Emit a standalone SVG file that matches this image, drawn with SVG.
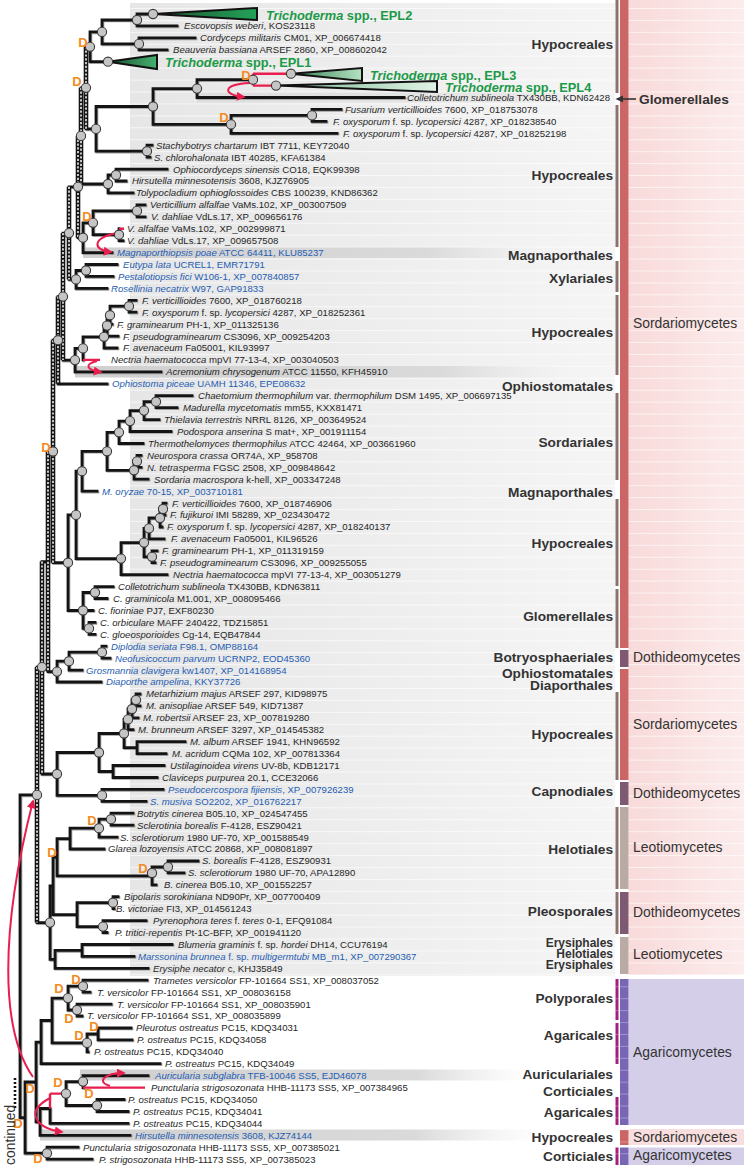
<svg xmlns="http://www.w3.org/2000/svg" width="744" height="1167" viewBox="0 0 744 1167">
<style>
.t{font-family:"Liberation Sans",Arial,sans-serif;font-size:9.6px;fill:#262626}
.bl{fill:#1f5db3}
.i{font-style:italic}
.epl{font-family:"Liberation Sans",Arial,sans-serif;font-size:12.8px;font-weight:bold;fill:#1c9a48}
.D{font-family:"Liberation Sans",Arial,sans-serif;font-size:13px;font-weight:bold;fill:#f38b1f;text-anchor:middle}
.ord{font-family:"Liberation Sans",Arial,sans-serif;font-size:13.7px;font-weight:bold;fill:#333;text-anchor:end}
.ords{font-size:12px}
.cls{font-family:"Liberation Sans",Arial,sans-serif;font-size:13.9px;fill:#333}
.nd{fill:#c5c5c5;stroke:#3a3a3a;stroke-width:1.1}
.red{fill:none;stroke:#e81f4e;stroke-width:2.4}
.arr{fill:none;stroke:#e81f4e;stroke-width:2;marker-end:url(#ah)}
.lad{fill:none;stroke:#141414;stroke-width:4.6}
.ladw{fill:none;stroke:#fff;stroke-width:1.5;stroke-dasharray:2.2 1.6}
.tri{stroke:#121212;stroke-width:2;stroke-linejoin:miter}
.band{fill:url(#bandg)}
</style>
<defs>
<linearGradient id="pg" x1="0" x2="1" y1="0" y2="0"><stop offset="0" stop-color="#e6e6e6"/><stop offset="1" stop-color="#f5f5f5"/></linearGradient>
<linearGradient id="pk" x1="0" x2="1" y1="0" y2="0"><stop offset="0" stop-color="#f8dada"/><stop offset="1" stop-color="#fcecec"/></linearGradient>
<linearGradient id="bandg" x1="0" x2="1" y1="0" y2="0"><stop offset="0" stop-color="#cfcfcf"/><stop offset="0.75" stop-color="#dadada"/><stop offset="1" stop-color="#e8e8e8" stop-opacity="0"/></linearGradient>
<linearGradient id="g2" x1="0" x2="1"><stop offset="0" stop-color="#1a5230"/><stop offset="1" stop-color="#22a358"/></linearGradient>
<linearGradient id="g1" x1="0" x2="1"><stop offset="0" stop-color="#1a5230"/><stop offset="1" stop-color="#45b16f"/></linearGradient>
<linearGradient id="g3" x1="0" x2="1"><stop offset="0" stop-color="#2f7f50"/><stop offset="1" stop-color="#b7e3c3"/></linearGradient>
<linearGradient id="g4" x1="0" x2="1"><stop offset="0" stop-color="#7ab893"/><stop offset="1" stop-color="#e0f3e5"/></linearGradient>
<pattern id="rl" x="0" y="8" width="744" height="11.93" patternUnits="userSpaceOnUse"><rect x="0" y="0" width="744" height="0.8" fill="#fff"/></pattern>
<marker id="ah" viewBox="0 0 10 10" refX="8" refY="5" markerWidth="9" markerHeight="9" markerUnits="userSpaceOnUse" orient="auto"><path d="M0 0L10 5L0 10Z" fill="#e81f4e"/></marker>
<path id="br" fill="none" stroke-linecap="square" d="M137 14V25.9M137 14H153M137 25.9H177M139 37.9V49.8M139 37.9H195M139 49.8H167M102 20V43.9M102 20H137M102 43.9H139M90 31.9V61.7M90 31.9H102M90 61.7H108M197 79.7V97.5M197 79.7H253M197 97.5H404M312 109.4V121.4M312 109.4H341M312 121.4H326M231 115.4V133.3M231 115.4H312M231 133.3H337M153 88.6V124.4M153 88.6H197M153 124.4H231M147 145.2V157.2M147 145.2H152M147 157.2H150M96 106.5V151.2M96 106.5H153M96 151.2H147M86 46.8H90M86 128.9H96M116 169.1V181M116 169.1H167M116 181H126M108 175V192.9M108 175H116M108 192.9H133M81 87.8H86M81 184H108M137 204.9V216.8M137 204.9H145M137 216.8H145M119 228.7V240.7M119 240.7H123M93 210.9V234.7M93 210.9H137M93 234.7H119M83 222.8V252.6M83 222.8H93M83 252.6H112M78 135.9H81M78 237.7H83M86 264.5V276.4M86 264.5H117M86 276.4H113M76 270.5V288.4M76 270.5H86M76 288.4H107M69 186.8H78M69 279.4H76M129 300.3V312.2M129 300.3H136M129 312.2H136M110 306.2V324.2M110 306.2H129M110 324.2H112M107 315.2V336.1M107 315.2H110M107 336.1H118M104 325.6V348M104 325.6H107M104 348H117M83 336.8V359.9M83 336.8H104M75 348.4V371.9M75 348.4H83M75 371.9H161M63 233.1H69M63 360.1H75M58 296.6H63M58 383.8H107M156 395.7V407.7M156 395.7H192M156 407.7H177M144 401.7V419.6M144 401.7H156M144 419.6H159M130 410.6V431.5M130 410.6H144M130 431.5H171M119 421.1V443.5M119 421.1H130M119 443.5H143M137 455.4V467.3M137 455.4H141M137 467.3H141M134 461.3V479.2M134 461.3H137M134 479.2H148M107 432.3V470.3M107 432.3H119M107 470.3H134M82 451.3V491.2M82 451.3H107M82 491.2H97M163 503.1V515M163 503.1H166M163 515H165M160 509V527M160 509H163M160 527H162M149 518V538.9M149 518H160M149 538.9H164M152 550.8V562.7M152 550.8H157M152 562.7H155M144 528.4V556.8M144 528.4H149M144 556.8H152M121 542.6V574.7M121 542.6H144M121 574.7H167M76 471.2V558.6M76 471.2H82M76 558.6H121M95 586.6V598.5M95 586.6H113M95 598.5H107M89 622.4V634.3M89 622.4H95M89 634.3H95M83 592.5V628.4M83 592.5H95M83 610.5H93M83 628.4H89M68 514.9V610.5M68 514.9H76M68 610.5H83M53 340.2H58M53 562.7H68M102 646.2V658.2M102 646.2H106M102 658.2H110M69 652.2V670.1M69 652.2H102M69 670.1H82M57 661.2V682M57 661.2H69M57 682H101M48 451.5H53M48 671.6H57M136 694V705.9M136 694H140M136 705.9H140M132 700V717.8M132 700H136M132 717.8H138M128 709V729.7M128 709H132M128 729.7H133M137 741.7V753.6M137 741.7H185M137 753.6H166M124 719.4V747.7M124 719.4H128M124 747.7H137M113 765.5V777.5M113 765.5H164M113 777.5H157M99 733.5V771.5M99 733.5H124M99 771.5H113M102 789.4V801.3M102 789.4H163M102 801.3H146M57 752.5V795.4M57 752.5H99M57 795.4H102M42 561.6H48M42 774H57M111 813.2V825.2M111 813.2H133M111 825.2H133M99 819.2V837.1M99 819.2H111M99 837.1H117M70 828.2V849M70 828.2H99M70 849H104M168 861V872.9M168 861H198M168 872.9H184M152 867V884.8M152 867H168M152 884.8H156M57 838.6V875.9M57 838.6H70M57 875.9H152M113 896.7V908.7M113 896.7H118M113 908.7H114M103 920.6V932.5M103 920.6H146M103 932.5H107M77 902.7V926.6M77 902.7H113M77 926.6H103M53 857.2V914.6M53 857.2H57M53 914.6H77M82 944.5V956.4M82 944.5H172M82 956.4H134M55 950.4V968.3M55 950.4H82M55 968.3H148M50 885.9V959.4M50 885.9H53M50 959.4H55M37 667.1H42M37 922.6H50M83 980.2V992.2M83 980.2H147M83 992.2H90M77 1004.1V1016M77 1004.1H111M77 1016H82M68 986.2V1010M68 986.2H83M68 1010H77M98 1028V1039.9M98 1028H131M98 1039.9H132M87 1034V1051.8M87 1034H98M87 1051.8H88M52 998.1V1042.9M52 998.1H68M52 1042.9H87M41 1020.5V1063.7M41 1020.5H52M41 1063.7H160M83 1075.7V1087.6M83 1075.7H148M97 1099.5V1111.5M97 1099.5H124M97 1111.5H128M66 1081.6V1105.5M66 1081.6H83M66 1105.5H97M50 1108.5V1123.4M50 1123.4H128M40 1108.5V1135.3M40 1108.5H50M40 1135.3H130M36 1042.1V1121.9M36 1042.1H41M36 1121.9H40M47 1147.2V1159.2M47 1147.2H78M47 1159.2H92M25 1082V1153.2M25 1082H36M25 1153.2H47M20 794.9V1117.6M20 794.9H37M20 1117.6H25"/>
</defs>

<g id="background">
<rect width="744" height="1167" fill="#fff"/>
<rect x="130" y="3" width="485" height="973" fill="url(#pg)"/>
<rect x="628.5" y="0" width="115.5" height="975" fill="url(#pk)"/>
<rect x="628.5" y="979" width="115.5" height="146" fill="#d4cee9"/>
<rect x="628.5" y="1129" width="115.5" height="16" fill="#f8dede"/>
<rect x="628.5" y="1147.5" width="115.5" height="17.5" fill="#d4cee9"/>
<rect x="130" y="0" width="614" height="976" fill="url(#rl)" opacity="0.75"/>
<rect class="band" x="197" y="92.5" width="417" height="10" opacity="0.45"/>
<rect class="band" x="83" y="247.5" width="460" height="10.5"/>
<rect class="band" x="75" y="366" width="490" height="11.5"/>
<rect class="band" x="80" y="1069.5" width="450" height="11"/>
<rect class="band" x="40" y="1129.5" width="500" height="11"/>
</g>

<g id="bars">
<g fill="#8b736d">
<rect x="615.5" y="0" width="3" height="93"/>
<rect x="615.5" y="105" width="3" height="142"/>
<rect x="615.5" y="261" width="3" height="31"/>
<rect x="615.5" y="295" width="3" height="80"/>
<rect x="615.5" y="393" width="3" height="87"/>
<rect x="615.5" y="499" width="3" height="87"/>
<rect x="615.5" y="589" width="3" height="59"/>
<rect x="615.5" y="692" width="3" height="88"/>
<rect x="615.5" y="807" width="3" height="82"/>
<rect x="615.5" y="892" width="3" height="42"/>
</g>
<g fill="#a3207f">
<rect x="615.5" y="979" width="3" height="41"/>
<rect x="615.5" y="1023" width="3" height="41"/>
<rect x="615.5" y="1097" width="3" height="28"/>
<rect x="615.5" y="1147.5" width="3" height="17.5"/>
</g>
<rect x="620" y="0" width="8.5" height="648" fill="#cc6565"/>
<rect x="620" y="650" width="8.5" height="17" fill="#7e5a72"/>
<rect x="620" y="669" width="8.5" height="111" fill="#cc6565"/>
<rect x="620" y="782" width="8.5" height="23" fill="#7e5a72"/>
<rect x="620" y="807" width="8.5" height="82" fill="#b9aaa3"/>
<rect x="620" y="892" width="8.5" height="42" fill="#7e5a72"/>
<rect x="620" y="937" width="8.5" height="37" fill="#b9aaa3"/>
<rect x="620" y="979" width="8.5" height="146" fill="#7866b5"/>
<rect x="620" y="1130" width="8.5" height="15" fill="#cc6565"/>
<rect x="620" y="1147.5" width="8.5" height="17.5" fill="#7866b5"/>
<rect x="615" y="976" width="14" height="191" fill="url(#rl)" opacity="0.35"/>
</g>

<g id="connectors">
<use href="#br" stroke="#9c9c9c" stroke-width="2.8" transform="translate(0.9 0.9)"/>
<use href="#br" stroke="#141414" stroke-width="2.8"/>
<path class="lad" d="M86 46.8V128.9M81 87.8V184M78 135.9V237.7M69 186.8V279.4M63 233.1V360.1M58 296.6V383.8M53 340.2V562.7M48 451.5V671.6M42 561.6V774M37 667.1V922.6"/>
<path class="ladw" d="M86 46.8V128.9M81 87.8V184M78 135.9V237.7M69 186.8V279.4M63 233.1V360.1M58 296.6V383.8M53 340.2V562.7M48 451.5V671.6M42 561.6V774M37 667.1V922.6"/>
<path class="red" d="M253 73.7V85.6M253 73.7H291M253 85.6H276M119 228.7H124M83 359.9H100M83 1087.6H145M50 1093.6V1108.5M50 1093.6H66"/>
<path d="M15 1078V1108" stroke="#141414" stroke-width="2.6" stroke-dasharray="2 2"/>
<path class="arr" d="M250 83C222 84 222 95 244 97"/>
<path class="arr" d="M117 233C92 238 92 250 111 252"/>
<path class="arr" d="M97 361C84 364 86 370 101 372"/>
<path class="arr" d="M33 1077C0 1030 0 930 33 801"/>
<path class="arr" d="M110 1086C96 1082 104 1073 124 1073"/>
<path class="arr" d="M50 1098C24 1112 36 1128 62 1132"/>
<path d="M636 99H621" stroke="#333" stroke-width="1.6"/>
<path d="M615.5 99L623 95.5V102.5Z" fill="#333"/>
</g>

<g id="collapsed">
<g id="EPL2"><path class="tri" d="M153 14L257 8V20Z" fill="url(#g2)"/><text class="epl" x="266" y="19.5"><tspan class="i">Trichoderma</tspan> spp., EPL2</text></g>
<g id="EPL1"><path class="tri" d="M108 61.7L157 55V69Z" fill="url(#g1)"/><text class="epl" x="165" y="67"><tspan class="i">Trichoderma</tspan> spp., EPL1</text></g>
<g id="EPL3"><path class="tri" d="M291 73.7L362 68V81Z" fill="url(#g3)"/><text class="epl" x="370" y="79.5"><tspan class="i">Trichoderma</tspan> spp., EPL3</text></g>
<g id="EPL4"><path class="tri" d="M276 85.6L437 81V92Z" fill="url(#g4)"/><text class="epl" x="445" y="91.5"><tspan class="i">Trichoderma</tspan> spp., EPL4</text></g>
</g>

<g id="internal-nodes">
<g id="n1"><circle class="nd" cx="137" cy="20" r="4.6"/></g>
<g id="n2"><circle class="nd" cx="139" cy="43.9" r="4.6"/></g>
<g id="n3"><circle class="nd" cx="102" cy="31.9" r="4.6"/></g>
<g id="n4"><circle class="nd" cx="108" cy="61.7" r="4.6"/></g>
<g id="n5"><circle class="nd" cx="153" cy="14" r="4.6"/></g>
<g id="n6"><circle class="nd" cx="90" cy="46.8" r="4.6"/></g>
<g id="n7"><circle class="nd" cx="291" cy="73.7" r="4.6"/></g>
<g id="n8"><circle class="nd" cx="276" cy="85.6" r="4.6"/></g>
<g id="n9"><circle class="nd" cx="253" cy="79.7" r="4.6"/></g>
<g id="n10"><circle class="nd" cx="197" cy="88.6" r="4.6"/></g>
<g id="n11"><circle class="nd" cx="312" cy="115.4" r="4.6"/></g>
<g id="n12"><circle class="nd" cx="231" cy="124.4" r="4.6"/></g>
<g id="n13"><circle class="nd" cx="153" cy="106.5" r="4.6"/></g>
<g id="n14"><circle class="nd" cx="147" cy="151.2" r="4.6"/></g>
<g id="n15"><circle class="nd" cx="96" cy="128.9" r="4.6"/></g>
<g id="n16"><circle class="nd" cx="86" cy="87.8" r="4.6"/></g>
<g id="n17"><circle class="nd" cx="116" cy="175" r="4.6"/></g>
<g id="n18"><circle class="nd" cx="108" cy="184" r="4.6"/></g>
<g id="n19"><circle class="nd" cx="81" cy="135.9" r="4.6"/></g>
<g id="n20"><circle class="nd" cx="78" cy="186.8" r="4.6"/></g>
<g id="n21"><circle class="nd" cx="137" cy="210.9" r="4.6"/></g>
<g id="n22"><circle class="nd" cx="119" cy="234.7" r="4.6"/></g>
<g id="n23"><circle class="nd" cx="93" cy="222.8" r="4.6"/></g>
<g id="n24"><circle class="nd" cx="83" cy="237.7" r="4.6"/></g>
<g id="n25"><circle class="nd" cx="86" cy="270.5" r="4.6"/></g>
<g id="n26"><circle class="nd" cx="76" cy="279.4" r="4.6"/></g>
<g id="n27"><circle class="nd" cx="69" cy="233.1" r="4.6"/></g>
<g id="n28"><circle class="nd" cx="129" cy="306.2" r="4.6"/></g>
<g id="n29"><circle class="nd" cx="110" cy="315.2" r="4.6"/></g>
<g id="n30"><circle class="nd" cx="107" cy="325.6" r="4.6"/></g>
<g id="n31"><circle class="nd" cx="104" cy="336.8" r="4.6"/></g>
<g id="n32"><circle class="nd" cx="83" cy="348.4" r="4.6"/></g>
<g id="n33"><circle class="nd" cx="75" cy="360.1" r="4.6"/></g>
<g id="n34"><circle class="nd" cx="63" cy="296.6" r="4.6"/></g>
<g id="n35"><circle class="nd" cx="58" cy="340.2" r="4.6"/></g>
<g id="n36"><circle class="nd" cx="156" cy="401.7" r="4.6"/></g>
<g id="n37"><circle class="nd" cx="144" cy="410.6" r="4.6"/></g>
<g id="n38"><circle class="nd" cx="130" cy="421.1" r="4.6"/></g>
<g id="n39"><circle class="nd" cx="119" cy="432.3" r="4.6"/></g>
<g id="n40"><circle class="nd" cx="137" cy="461.3" r="4.6"/></g>
<g id="n41"><circle class="nd" cx="134" cy="470.3" r="4.6"/></g>
<g id="n42"><circle class="nd" cx="107" cy="451.3" r="4.6"/></g>
<g id="n43"><circle class="nd" cx="82" cy="471.2" r="4.6"/></g>
<g id="n44"><circle class="nd" cx="163" cy="509" r="4.6"/></g>
<g id="n45"><circle class="nd" cx="160" cy="518" r="4.6"/></g>
<g id="n46"><circle class="nd" cx="149" cy="528.4" r="4.6"/></g>
<g id="n47"><circle class="nd" cx="144" cy="542.6" r="4.6"/></g>
<g id="n48"><circle class="nd" cx="152" cy="556.8" r="4.6"/></g>
<g id="n49"><circle class="nd" cx="121" cy="558.6" r="4.6"/></g>
<g id="n50"><circle class="nd" cx="76" cy="514.9" r="4.6"/></g>
<g id="n51"><circle class="nd" cx="95" cy="592.5" r="4.6"/></g>
<g id="n52"><circle class="nd" cx="89" cy="628.4" r="4.6"/></g>
<g id="n53"><circle class="nd" cx="83" cy="610.5" r="4.6"/></g>
<g id="n54"><circle class="nd" cx="68" cy="562.7" r="4.6"/></g>
<g id="n55"><circle class="nd" cx="53" cy="451.5" r="4.6"/></g>
<g id="n56"><circle class="nd" cx="102" cy="652.2" r="4.6"/></g>
<g id="n57"><circle class="nd" cx="69" cy="661.2" r="4.6"/></g>
<g id="n58"><circle class="nd" cx="57" cy="671.6" r="4.6"/></g>
<g id="n59"><circle class="nd" cx="42" cy="667.1" r="4.6"/></g>
<g id="n60"><circle class="nd" cx="136" cy="700" r="4.6"/></g>
<g id="n61"><circle class="nd" cx="132" cy="709" r="4.6"/></g>
<g id="n62"><circle class="nd" cx="128" cy="719.4" r="4.6"/></g>
<g id="n63"><circle class="nd" cx="124" cy="733.5" r="4.6"/></g>
<g id="n64"><circle class="nd" cx="99" cy="752.5" r="4.6"/></g>
<g id="n65"><circle class="nd" cx="57" cy="774" r="4.6"/></g>
<g id="n66"><circle class="nd" cx="102" cy="795.4" r="4.6"/></g>
<g id="n67"><circle class="nd" cx="37" cy="794.9" r="4.6"/></g>
<g id="n68"><circle class="nd" cx="111" cy="819.2" r="4.6"/></g>
<g id="n69"><circle class="nd" cx="99" cy="828.2" r="4.6"/></g>
<g id="n70"><circle class="nd" cx="152" cy="873" r="4.6"/></g>
<g id="n71"><circle class="nd" cx="168" cy="867" r="4.6"/></g>
<g id="n72"><circle class="nd" cx="113" cy="902.7" r="4.6"/></g>
<g id="n73"><circle class="nd" cx="103" cy="926.6" r="4.6"/></g>
<g id="n74"><circle class="nd" cx="50" cy="922.6" r="4.6"/></g>
<g id="n75"><circle class="nd" cx="83" cy="986.2" r="4.6"/></g>
<g id="n76"><circle class="nd" cx="77" cy="1010" r="4.6"/></g>
<g id="n77"><circle class="nd" cx="68" cy="998.1" r="4.6"/></g>
<g id="n78"><circle class="nd" cx="87" cy="1042.9" r="4.6"/></g>
<g id="n79"><circle class="nd" cx="83" cy="1081.6" r="4.6"/></g>
<g id="n80"><circle class="nd" cx="97" cy="1105.5" r="4.6"/></g>
<g id="n81"><circle class="nd" cx="66" cy="1093.6" r="4.6"/></g>
<g id="n82"><circle class="nd" cx="47" cy="1153.2" r="4.6"/></g>
</g>

<g id="duplications">
<text class="D" x="83" y="46.5">D</text>
<text class="D" x="77" y="85.5">D</text>
<text class="D" x="246" y="79.5">D</text>
<text class="D" x="224" y="121.5">D</text>
<text class="D" x="87" y="220.5">D</text>
<text class="D" x="46" y="451.5">D</text>
<text class="D" x="92" y="824.5">D</text>
<text class="D" x="52" y="856.5">D</text>
<text class="D" x="143" y="872.5">D</text>
<text class="D" x="76" y="983.5">D</text>
<text class="D" x="59" y="992.5">D</text>
<text class="D" x="69" y="1022.5">D</text>
<text class="D" x="94" y="1030.5">D</text>
<text class="D" x="79" y="1039.5">D</text>
<text class="D" x="58" y="1086.5">D</text>
<text class="D" x="89" y="1097.5">D</text>
<text class="D" x="30" y="1092.5">D</text>
<text class="D" x="18" y="1127.5">D</text>
<text class="D" x="38" y="1162.5">D</text>
</g>

<g id="leaves">
<g id="L02"><text class="t" x="184" y="29.3"><tspan class="i">Escovopsis weberi</tspan>, KOS23118</text></g>
<g id="L03"><text class="t" x="200" y="41.3"><tspan class="i">Cordyceps militaris</tspan> CM01, XP_006674418</text></g>
<g id="L04"><text class="t" x="173" y="53.2"><tspan class="i">Beauveria bassiana</tspan> ARSEF 2860, XP_008602042</text></g>
<g id="L08"><text class="t" x="407" y="100.9"><tspan class="i">Colletotrichum sublineola</tspan> TX430BB, KDN62428</text></g>
<g id="L09"><text class="t" x="345" y="112.8"><tspan class="i">Fusarium verticillioides</tspan> 7600, XP_018753078</text></g>
<g id="L10"><text class="t" x="333" y="124.8"><tspan class="i">F. oxysporum</tspan> f. sp. <tspan class="i">lycopersici</tspan> 4287, XP_018238540</text></g>
<g id="L11"><text class="t" x="343" y="136.7"><tspan class="i">F. oxysporum</tspan> f. sp. <tspan class="i">lycopersici</tspan> 4287, XP_018252198</text></g>
<g id="L12"><text class="t" x="156" y="148.6"><tspan class="i">Stachybotrys chartarum</tspan> IBT 7711, KEY72040</text></g>
<g id="L13"><text class="t" x="154" y="160.6"><tspan class="i">S. chlorohalonata</tspan> IBT 40285, KFA61384</text></g>
<g id="L14"><text class="t" x="173" y="172.5"><tspan class="i">Ophiocordyceps sinensis</tspan> CO18, EQK99398</text></g>
<g id="L15"><text class="t" x="132" y="184.4"><tspan class="i">Hirsutella minnesotensis</tspan> 3608, KJZ76905</text></g>
<g id="L16"><text class="t" x="136" y="196.3"><tspan class="i">Tolypocladium ophioglossoides</tspan> CBS 100239, KND86362</text></g>
<g id="L17"><text class="t" x="150" y="208.3"><tspan class="i">Verticillium alfalfae</tspan> VaMs.102, XP_003007509</text></g>
<g id="L18"><text class="t" x="151" y="220.2"><tspan class="i">V. dahliae</tspan> VdLs.17, XP_009656176</text></g>
<g id="L19"><text class="t" x="127" y="232.1"><tspan class="i">V. alfalfae</tspan> VaMs.102, XP_002999871</text></g>
<g id="L20"><text class="t" x="127" y="244.1"><tspan class="i">V. dahliae</tspan> VdLs.17, XP_009657508</text></g>
<g id="L21"><text class="t bl" x="117" y="256"><tspan class="i">Magnaporthiopsis poae</tspan> ATCC 64411, KLU85237</text></g>
<g id="L22"><text class="t bl" x="123" y="267.9"><tspan class="i">Eutypa lata</tspan> UCREL1, EMR71791</text></g>
<g id="L23"><text class="t bl" x="118" y="279.8"><tspan class="i">Pestalotiopsis fici</tspan> W106-1, XP_007840857</text></g>
<g id="L24"><text class="t bl" x="111" y="291.8"><tspan class="i">Rosellinia necatrix</tspan> W97, GAP91833</text></g>
<g id="L25"><text class="t" x="142" y="303.7"><tspan class="i">F. verticillioides</tspan> 7600, XP_018760218</text></g>
<g id="L26"><text class="t" x="142" y="315.6"><tspan class="i">F. oxysporum</tspan> f. sp. <tspan class="i">lycopersici</tspan> 4287, XP_018252361</text></g>
<g id="L27"><text class="t" x="117" y="327.6"><tspan class="i">F. graminearum</tspan> PH-1, XP_011325136</text></g>
<g id="L28"><text class="t" x="123" y="339.5"><tspan class="i">F. pseudograminearum</tspan> CS3096, XP_009254203</text></g>
<g id="L29"><text class="t" x="123" y="351.4"><tspan class="i">F. avenaceum</tspan> Fa05001, KIL93997</text></g>
<g id="L30"><text class="t" x="111" y="363.3"><tspan class="i">Nectria haematococca</tspan> mpVI 77-13-4, XP_003040503</text></g>
<g id="L31"><text class="t" x="166" y="375.3"><tspan class="i">Acremonium chrysogenum</tspan> ATCC 11550, KFH45910</text></g>
<g id="L32"><text class="t bl" x="112" y="387.2"><tspan class="i">Ophiostoma piceae</tspan> UAMH 11346, EPE08632</text></g>
<g id="L33"><text class="t" x="198" y="399.1"><tspan class="i">Chaetomium thermophilum</tspan> var. <tspan class="i">thermophilum</tspan> DSM 1495, XP_006697135</text></g>
<g id="L34"><text class="t" x="183" y="411.1"><tspan class="i">Madurella mycetomatis</tspan> mm55, KXX81471</text></g>
<g id="L35"><text class="t" x="164" y="423"><tspan class="i">Thielavia terrestris</tspan> NRRL 8126, XP_003649524</text></g>
<g id="L36"><text class="t" x="177" y="434.9"><tspan class="i">Podospora anserina</tspan> S mat+, XP_001911154</text></g>
<g id="L37"><text class="t" x="148" y="446.9"><tspan class="i">Thermothelomyces thermophilus</tspan> ATCC 42464, XP_003661960</text></g>
<g id="L38"><text class="t" x="147" y="458.8"><tspan class="i">Neurospora crassa</tspan> OR74A, XP_958708</text></g>
<g id="L39"><text class="t" x="147" y="470.7"><tspan class="i">N. tetrasperma</tspan> FGSC 2508, XP_009848642</text></g>
<g id="L40"><text class="t" x="154" y="482.6"><tspan class="i">Sordaria macrospora</tspan> k-hell, XP_003347248</text></g>
<g id="L41"><text class="t bl" x="102" y="494.6"><tspan class="i">M. oryzae</tspan> 70-15, XP_003710181</text></g>
<g id="L42"><text class="t" x="172" y="506.5"><tspan class="i">F. verticillioides</tspan> 7600, XP_018746906</text></g>
<g id="L43"><text class="t" x="170" y="518.4"><tspan class="i">F. fujikuroi</tspan> IMI 58289, XP_023430472</text></g>
<g id="L44"><text class="t" x="167" y="530.4"><tspan class="i">F. oxysporum</tspan> f. sp. <tspan class="i">lycopersici</tspan> 4287, XP_018240137</text></g>
<g id="L45"><text class="t" x="171" y="542.3"><tspan class="i">F. avenaceum</tspan> Fa05001, KIL96526</text></g>
<g id="L46"><text class="t" x="162" y="554.2"><tspan class="i">F. graminearum</tspan> PH-1, XP_011319159</text></g>
<g id="L47"><text class="t" x="160" y="566.1"><tspan class="i">F. pseudograminearum</tspan> CS3096, XP_009255055</text></g>
<g id="L48"><text class="t" x="173" y="578.1"><tspan class="i">Nectria haematococca</tspan> mpVI 77-13-4, XP_003051279</text></g>
<g id="L49"><text class="t" x="118" y="590"><tspan class="i">Colletotrichum sublineola</tspan> TX430BB, KDN63811</text></g>
<g id="L50"><text class="t" x="113" y="601.9"><tspan class="i">C. graminicola</tspan> M1.001, XP_008095466</text></g>
<g id="L51"><text class="t" x="98" y="613.9"><tspan class="i">C. fioriniae</tspan> PJ7, EXF80230</text></g>
<g id="L52"><text class="t" x="100" y="625.8"><tspan class="i">C. orbiculare</tspan> MAFF 240422, TDZ15851</text></g>
<g id="L53"><text class="t" x="100" y="637.7"><tspan class="i">C. gloeosporioides</tspan> Cg-14, EQB47844</text></g>
<g id="L54"><text class="t bl" x="111" y="649.6"><tspan class="i">Diplodia seriata</tspan> F98.1, OMP88164</text></g>
<g id="L55"><text class="t bl" x="115" y="661.6"><tspan class="i">Neofusicoccum parvum</tspan> UCRNP2, EOD45360</text></g>
<g id="L56"><text class="t bl" x="86" y="673.5"><tspan class="i">Grosmannia clavigera</tspan> kw1407, XP_014168954</text></g>
<g id="L57"><text class="t bl" x="106" y="685.4"><tspan class="i">Diaporthe ampelina</tspan>, KKY37726</text></g>
<g id="L58"><text class="t" x="146" y="697.4"><tspan class="i">Metarhizium majus</tspan> ARSEF 297, KID98975</text></g>
<g id="L59"><text class="t" x="146" y="709.3"><tspan class="i">M. anisopliae</tspan> ARSEF 549, KID71387</text></g>
<g id="L60"><text class="t" x="143" y="721.2"><tspan class="i">M. robertsii</tspan> ARSEF 23, XP_007819280</text></g>
<g id="L61"><text class="t" x="138" y="733.1"><tspan class="i">M. brunneum</tspan> ARSEF 3297, XP_014545382</text></g>
<g id="L62"><text class="t" x="190" y="745.1"><tspan class="i">M. album</tspan> ARSEF 1941, KHN96592</text></g>
<g id="L63"><text class="t" x="172" y="757"><tspan class="i">M. acridum</tspan> CQMa 102, XP_007813364</text></g>
<g id="L64"><text class="t" x="170" y="768.9"><tspan class="i">Ustilaginoidea virens</tspan> UV-8b, KDB12171</text></g>
<g id="L65"><text class="t" x="162" y="780.9"><tspan class="i">Claviceps purpurea</tspan> 20.1, CCE32066</text></g>
<g id="L66"><text class="t bl" x="168" y="792.8"><tspan class="i">Pseudocercospora fijiensis</tspan>, XP_007926239</text></g>
<g id="L67"><text class="t bl" x="150" y="804.7"><tspan class="i">S. musiva</tspan> SO2202, XP_016762217</text></g>
<g id="L68"><text class="t" x="137" y="816.6"><tspan class="i">Botrytis cinerea</tspan> B05.10, XP_024547455</text></g>
<g id="L69"><text class="t" x="137" y="828.6"><tspan class="i">Sclerotinia borealis</tspan> F-4128, ESZ90421</text></g>
<g id="L70"><text class="t" x="120" y="840.5"><tspan class="i">S. sclerotiorum</tspan> 1980 UF-70, XP_001588549</text></g>
<g id="L71"><text class="t" x="108" y="852.4"><tspan class="i">Glarea lozoyensis</tspan> ATCC 20868, XP_008081897</text></g>
<g id="L72"><text class="t" x="202" y="864.4"><tspan class="i">S. borealis</tspan> F-4128, ESZ90931</text></g>
<g id="L73"><text class="t" x="188" y="876.3"><tspan class="i">S. sclerotiorum</tspan> 1980 UF-70, APA12890</text></g>
<g id="L74"><text class="t" x="164" y="888.2"><tspan class="i">B. cinerea</tspan> B05.10, XP_001552257</text></g>
<g id="L75"><text class="t" x="124" y="900.1"><tspan class="i">Bipolaris sorokiniana</tspan> ND90Pr, XP_007700409</text></g>
<g id="L76"><text class="t" x="116" y="912.1"><tspan class="i">B. victoriae</tspan> FI3, XP_014561243</text></g>
<g id="L77"><text class="t" x="153" y="924"><tspan class="i">Pyrenophora teres</tspan> f. <tspan class="i">teres</tspan> 0-1, EFQ91084</text></g>
<g id="L78"><text class="t" x="115" y="935.9"><tspan class="i">P. tritici-repentis</tspan> Pt-1C-BFP, XP_001941120</text></g>
<g id="L79"><text class="t" x="178" y="947.9"><tspan class="i">Blumeria graminis</tspan> f. sp. <tspan class="i">hordei</tspan> DH14, CCU76194</text></g>
<g id="L80"><text class="t bl" x="138" y="959.8"><tspan class="i">Marssonina brunnea</tspan> f. sp. <tspan class="i">multigermtubi</tspan> MB_m1, XP_007290367</text></g>
<g id="L81"><text class="t" x="153" y="971.7"><tspan class="i">Erysiphe necator</tspan> c, KHJ35849</text></g>
<g id="L82"><text class="t" x="153" y="983.6"><tspan class="i">Trametes versicolor</tspan> FP-101664 SS1, XP_008037052</text></g>
<g id="L83"><text class="t" x="97" y="995.6"><tspan class="i">T. versicolor</tspan> FP-101664 SS1, XP_008036158</text></g>
<g id="L84"><text class="t" x="117" y="1007.5"><tspan class="i">T. versicolor</tspan> FP-101664 SS1, XP_008035901</text></g>
<g id="L85"><text class="t" x="87" y="1019.4"><tspan class="i">T. versicolor</tspan> FP-101664 SS1, XP_008035899</text></g>
<g id="L86"><text class="t" x="136" y="1031.4"><tspan class="i">Pleurotus ostreatus</tspan> PC15, KDQ34031</text></g>
<g id="L87"><text class="t" x="137" y="1043.3"><tspan class="i">P. ostreatus</tspan> PC15, KDQ34058</text></g>
<g id="L88"><text class="t" x="94" y="1055.2"><tspan class="i">P. ostreatus</tspan> PC15, KDQ34040</text></g>
<g id="L89"><text class="t" x="165" y="1067.1"><tspan class="i">P. ostreatus</tspan> PC15, KDQ34049</text></g>
<g id="L90"><text class="t bl" x="155" y="1079.1"><tspan class="i">Auricularia subglabra</tspan> TFB-10046 SS5, EJD46078</text></g>
<g id="L91"><text class="t" x="151" y="1091"><tspan class="i">Punctularia strigosozonata</tspan> HHB-11173 SS5, XP_007384965</text></g>
<g id="L92"><text class="t" x="128" y="1102.9"><tspan class="i">P. ostreatus</tspan> PC15, KDQ34050</text></g>
<g id="L93"><text class="t" x="133" y="1114.9"><tspan class="i">P. ostreatus</tspan> PC15, KDQ34041</text></g>
<g id="L94"><text class="t" x="133" y="1126.8"><tspan class="i">P. ostreatus</tspan> PC15, KDQ34044</text></g>
<g id="L95"><text class="t bl" x="135" y="1138.7"><tspan class="i">Hirsutella minnesotensis</tspan> 3608, KJZ74144</text></g>
<g id="L96"><text class="t" x="83" y="1150.6"><tspan class="i">Punctularia strigosozonata</tspan> HHB-11173 SS5, XP_007385021</text></g>
<g id="L97"><text class="t" x="99" y="1162.6"><tspan class="i">P. strigosozonata</tspan> HHB-11173 SS5, XP_007385023</text></g>
</g>

<g id="orders">
<text class="ord" x="613" y="49">Hypocreales</text>
<text class="ord" x="639" y="104" style="text-anchor:start">Glomerellales</text>
<text class="ord" x="613" y="180">Hypocreales</text>
<text class="ord" x="613" y="260">Magnaporthales</text>
<text class="ord" x="613" y="283">Xylariales</text>
<text class="ord" x="613" y="337">Hypocreales</text>
<text class="ord" x="613" y="391">Ophiostomatales</text>
<text class="ord" x="613" y="447">Sordariales</text>
<text class="ord" x="613" y="497">Magnaporthales</text>
<text class="ord" x="613" y="548">Hypocreales</text>
<text class="ord" x="613" y="621">Glomerellales</text>
<text class="ord" x="613" y="662">Botryosphaeriales</text>
<text class="ord" x="613" y="678">Ophiostomatales</text>
<text class="ord" x="613" y="690">Diaporthales</text>
<text class="ord" x="613" y="739">Hypocreales</text>
<text class="ord" x="613" y="796">Capnodiales</text>
<text class="ord" x="613" y="854">Helotiales</text>
<text class="ord" x="613" y="916">Pleosporales</text>
<text class="ord ords" x="613" y="946.5">Erysiphales</text>
<text class="ord ords" x="613" y="957.5">Helotiales</text>
<text class="ord ords" x="613" y="968.5">Erysiphales</text>
<text class="ord" x="613" y="1003">Polyporales</text>
<text class="ord" x="613" y="1040">Agaricales</text>
<text class="ord" x="613" y="1079">Auriculariales</text>
<text class="ord" x="613" y="1096">Corticiales</text>
<text class="ord" x="613" y="1117">Agaricales</text>
<text class="ord" x="613" y="1142">Hypocreales</text>
<text class="ord" x="613" y="1161">Corticiales</text>
</g>

<g id="classes">
<text class="cls" x="633" y="328">Sordariomycetes</text>
<text class="cls" x="633" y="662">Dothideomycetes</text>
<text class="cls" x="633" y="729">Sordariomycetes</text>
<text class="cls" x="633" y="798">Dothideomycetes</text>
<text class="cls" x="633" y="852">Leotiomycetes</text>
<text class="cls" x="633" y="917">Dothideomycetes</text>
<text class="cls" x="633" y="959">Leotiomycetes</text>
<text class="cls" x="633" y="1057">Agaricomycetes</text>
<text class="cls" x="633" y="1142">Sordariomycetes</text>
<text class="cls" x="633" y="1160">Agaricomycetes</text>
</g>

<g id="continued"><text class="cls" transform="translate(15 1165) rotate(-90)">continued</text></g>
</svg>
